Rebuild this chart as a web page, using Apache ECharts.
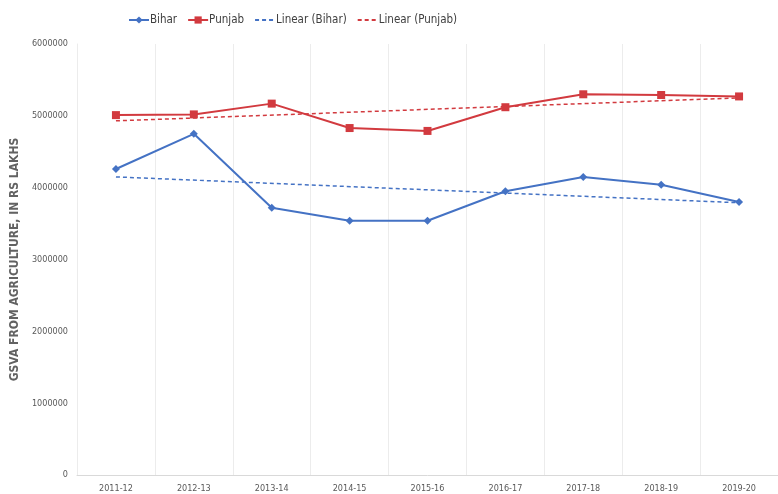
<!DOCTYPE html>
<html><head><meta charset="utf-8">
<script src="https://cdn.jsdelivr.net/npm/echarts@6/dist/echarts.min.js"></script>
<style>html,body{margin:0;padding:0;background:#fff}#c{width:778px;height:494px}</style>
</head><body><div id="c"></div>
<script>
var categories = ['2011-12','2012-13','2013-14','2014-15','2015-16','2016-17','2017-18','2018-19','2019-20'];
var bihar = [4260000,4750000,3720000,3540000,3540000,3950000,4150000,4040000,3800000];
var punjab = [5010000,5020000,5170000,4830000,4790000,5120000,5300000,5290000,5270000];
var linearBihar = [4150000,null,null,null,null,null,null,null,3790000];
var linearPunjab = [4930000,null,null,null,null,null,null,null,5250000];
var yTicks = [0,1000000,2000000,3000000,4000000,5000000,6000000];

var blue = '#4472c4', red = '#d23a3f';
var font = '"DejaVu Sans Condensed","Liberation Sans Narrow",sans-serif';
var chart = echarts.init(document.getElementById('c'));
chart.setOption({
  animation:false,
  legend:{top:9,left:123,itemGap:10,itemWidth:20,itemHeight:9,
    textStyle:{fontFamily:font,fontSize:11.5,color:'#404040',padding:[0,0,0,-4]},
    data:['Bihar','Punjab',
      {name:'Linear (Bihar)',itemStyle:{opacity:0}},
      {name:'Linear (Punjab)',itemStyle:{opacity:0}}]},
  grid:{left:77,right:0,top:44,bottom:19},
  xAxis:{type:'category',data:categories,boundaryGap:true,
    axisLine:{lineStyle:{color:'#d9d9d9'}},axisTick:{show:false},
    splitLine:{show:true,lineStyle:{color:'#ececec'}},
    axisLabel:{fontFamily:font,fontSize:9,color:'#595959',margin:9,interval:0}},
  yAxis:{type:'value',min:yTicks[0],max:yTicks[yTicks.length-1],interval:1000000,
    name:'GSVA FROM AGRICULTURE, IN RS LAKHS',nameLocation:'middle',nameGap:53,
    nameTextStyle:{fontFamily:font,fontSize:12,fontWeight:'bold',color:'#626262'},
    axisLine:{show:true,lineStyle:{color:'#ececec'}},axisTick:{show:false},
    splitLine:{show:false},
    axisLabel:{fontFamily:font,fontSize:9,color:'#595959',margin:9,
      formatter:function(v){return String(v);}}},
  series:[
    {name:'Bihar',type:'line',data:bihar,symbol:'diamond',symbolSize:8,
      lineStyle:{color:blue,width:2},itemStyle:{color:blue}},
    {name:'Punjab',type:'line',data:punjab,symbol:'rect',symbolSize:8,
      lineStyle:{color:red,width:2},itemStyle:{color:red}},
    {name:'Linear (Bihar)',type:'line',data:linearBihar,connectNulls:true,showSymbol:false,symbol:'none',
      lineStyle:{color:blue,width:1.5,type:[4,3]},itemStyle:{color:blue}},
    {name:'Linear (Punjab)',type:'line',data:linearPunjab,connectNulls:true,showSymbol:false,symbol:'none',
      lineStyle:{color:red,width:1.5,type:[4,3]},itemStyle:{color:red}}
  ]
});
</script></body></html>
